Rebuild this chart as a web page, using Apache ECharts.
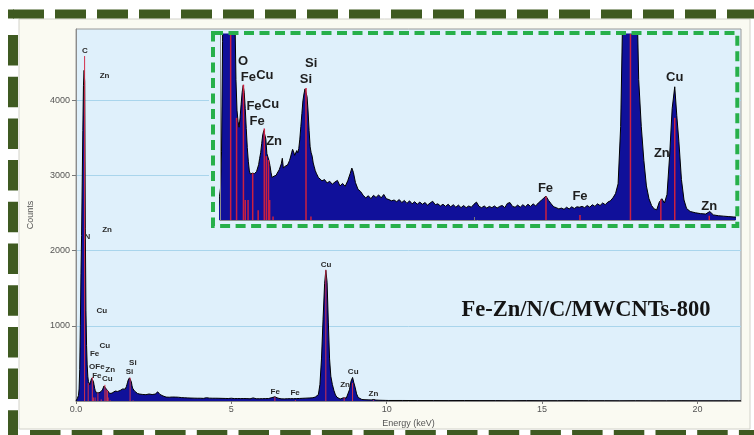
<!DOCTYPE html>
<html><head><meta charset="utf-8">
<script src="https://cdn.jsdelivr.net/npm/echarts@6/dist/echarts.min.js"></script>
<style>html,body{margin:0;padding:0;background:#fff}#c{width:754px;height:435px}</style>
</head><body><div id="c"></div>
<script>
// ---- spectrum (energy in keV, counts) ----
const energy = [
 0.00,0.02,0.04,0.06,0.08,0.10,0.12,0.14,0.16,0.18,0.20,0.22,0.24,0.26,0.28,0.30,0.32,0.34,0.36,0.38,
 0.40,0.42,0.44,0.46,0.48,0.50,0.52,0.54,0.56,0.58,0.60,0.62,0.64,0.66,0.68,0.70,0.72,0.74,0.76,0.78,
 0.80,0.82,0.84,0.86,0.88,0.90,0.92,0.94,0.96,0.98,1.00,1.02,1.04,1.06,1.08,1.10,1.12,1.14,1.16,1.18,
 1.20,1.22,1.24,1.26,1.28,1.30,1.32,1.34,1.36,1.38,1.40,1.42,1.44,1.46,1.48,1.50,1.52,1.54,1.56,1.58,
 1.60,1.62,1.64,1.66,1.68,1.70,1.72,1.74,1.76,1.78,1.80,1.82,1.84,1.86,1.88,1.90,1.92,1.94,1.96,1.98,
 2.00,2.05,2.10,2.15,2.20,2.25,2.30,2.35,2.40,2.45,2.50,2.55,2.60,2.63,2.66,2.70,2.75,2.80,2.85,2.90,
 2.95,3.00,3.05,3.10,3.15,3.20,3.25,3.30,3.35,3.40,3.45,3.50,3.55,3.60,3.65,3.70,3.75,3.80,3.85,3.90,
 3.95,4.00,4.05,4.10,4.15,4.20,4.25,4.30,4.35,4.40,4.45,4.50,4.55,4.60,4.65,4.70,4.75,4.80,4.85,4.90,
 4.95,5.00,5.05,5.10,5.15,5.20,5.25,5.30,5.35,5.40,5.45,5.50,5.55,5.60,5.65,5.70,5.75,5.80,5.85,5.90,
 5.95,6.00,6.05,6.10,6.15,6.20,6.25,6.30,6.35,6.40,6.45,6.50,6.55,6.60,6.65,6.70,6.75,6.80,6.85,6.90,
 6.95,7.00,7.05,7.10,7.15,7.20,7.25,7.30,7.35,7.40,7.45,7.50,7.55,7.60,7.65,7.70,7.75,7.80,7.85,7.90,
 7.95,8.00,8.04,8.08,8.12,8.16,8.20,8.25,8.30,8.35,8.40,8.45,8.50,8.55,8.60,8.65,8.70,8.75,8.80,8.85,
 8.90,8.94,8.98,9.03,9.08,9.13,9.20,9.30,9.40,9.50,9.58,9.65,9.75,9.85,9.95,10.05,10.5,11.0,11.5,12.0,
 12.5,13.0,13.5,14.0,14.5,15.0,15.5,16.0,16.5,17.0,17.5,18.0,18.5,19.0,19.5,20.0,20.5,21.0,21.4
];
const counts = [
 0,10,30,55,75,160,420,1000,1700,2200,2900,3600,4200,4400,4250,2300,1200,740,480,330,
 258,232,218,240,272,300,316,300,262,215,170,138,115,108,104,110,106,109,112,114,
 118,130,145,158,180,200,210,213,190,156,148,140,128,112,100,98,103,100,105,110,
 114,118,122,132,145,122,124,127,130,129,134,140,148,158,166,160,152,156,163,158,
 168,190,220,250,280,296,308,312,290,256,210,172,158,150,134,125,116,110,106,100,
 98,92,95,87,91,84,89,93,80,86,79,92,110,122,112,88,72,67,58,52,
 57,50,58,53,59,52,60,50,48,45,47,43,48,41,46,39,45,38,43,37,
 42,37,41,35,40,44,36,38,33,37,32,37,31,36,30,35,29,34,29,33,
 30,37,42,32,29,33,28,32,29,33,28,32,34,29,39,41,32,30,35,30,
 36,31,37,32,38,33,40,45,51,56,46,38,31,29,26,28,25,30,26,31,
 27,31,30,32,29,34,30,36,32,38,34,40,36,42,45,52,62,85,220,560,
 1080,1560,1740,1580,1050,560,330,220,140,80,50,34,26,24,42,50,40,60,150,262,
 313,245,185,95,47,27,20,17,15,14,20,12,10,9,8,7,7,6,6,5,
 6,5,5,4,5,4,4,5,4,4,3,4,3,3,4,3,3,3,3
];

// ---- element line markers (keV, marker height in counts) ----
const lineEnergy = [0.277,0.392,0.525,0.56,0.615,0.705,0.811,0.93,0.97,1.012,1.034,1.10,1.74,1.836,6.40,7.06,8.04,8.63,8.90,9.57];
const lineHeight = [4590,240,318,47,47,110,23,215,150,141,47,8,310,8,55,12,1747,48,240,10];

// ---- element labels, main view ----
const mainLabelText = ['C','Zn','N','Zn','Cu','Cu','Fe','OFe','Zn','Fe','Cu','Si','Si','Fe','Fe','Cu','Zn','Cu','Zn'];
const mainLabelE    = [0.29,0.92,0.37,1.00,0.83,0.93,0.60,0.67,1.10,0.67,1.01,1.83,1.72,6.41,7.05,8.05,8.66,8.92,9.57];
const mainLabelC    = [4660,4330,2186,2276,1202,736,629,456,410,337,297,514,394,124,110,1814,217,390,97];

// ---- element labels, inset view ----
const insetLabelText = ['O','Fe','Cu','Fe','Cu','Fe','Zn','Si','Si','Fe','Fe','Cu','Zn','Zn'];
const insetLabelE    = [0.52,0.62,0.94,0.73,1.05,0.79,1.12,1.84,1.74,6.39,7.06,8.90,8.65,9.57];
const insetLabelC    = [372,336,340,268,272,231,185,369,331,74,55,336,157,31];

// ---- axes ----
const xTicks = [0,5,10,15,20];
const yTicks = [1000,2000,3000,4000];
const insetXTicks = [5];
const sampleName = 'Fe-Zn/N/C/MWCNTs-800';

const spectrum = energy.map((e,i)=>[e,counts[i]]);
const markers = lineEnergy.map((e,i)=>[e,lineHeight[i]]);

function markerRender(color,width){
  return function(params,api){
    const cs = params.coordSys;
    const p0 = api.coord([api.value(0),0]);
    const p1 = api.coord([api.value(0),api.value(1)]);
    const yTop = Math.max(p1[1], cs.y);
    return {type:'line', shape:{x1:p0[0],y1:p0[1],x2:p1[0],y2:yTop},
      style:{stroke:color,lineWidth:width}};
  };
}
function labelRender(texts,font,color){
  return function(params,api){
    const p = api.coord([api.value(0),api.value(1)]);
    return {type:'text', x:p[0], y:p[1],
      style:{text:texts[params.dataIndex], font:font, fill:color,
        align:'center', verticalAlign:'middle', textAlign:'center', textVerticalAlign:'middle'}};
  };
}

const chart = echarts.init(document.getElementById('c'),null,{renderer:'canvas'});
const axisGray = '#8c8c8c';
const labelFont = 'Liberation Sans';
const green = '#3f5a21';

chart.setOption({
  animation:false,
  backgroundColor:'#ffffff',
  grid:[
    {left:76,right:13,top:29,bottom:34,show:true,backgroundColor:'#dff0fb',borderColor:'#9a9a9a',borderWidth:1},
    {left:220,right:19,top:34,bottom:215,show:false}
  ],
  xAxis:[
    {type:'value',gridIndex:0,min:0,max:21.4,
     axisLine:{show:true,lineStyle:{color:axisGray}},
     axisTick:{show:true,customValues:xTicks,length:3,lineStyle:{color:'#777'}},
     axisLabel:{customValues:xTicks,formatter:v=>v===0?'0.0':String(v),color:'#555',fontSize:9,fontFamily:labelFont,margin:4},
     splitLine:{show:false},
     name:'Energy (keV)',nameLocation:'middle',nameGap:15,
     nameTextStyle:{color:'#555',fontSize:9,fontFamily:labelFont}},
    {type:'value',gridIndex:1,min:0.07,max:10.07,z:3,
     axisLine:{show:true,lineStyle:{color:axisGray}},
     axisTick:{show:true,customValues:insetXTicks,inside:true,length:3,lineStyle:{color:'#777'}},
     axisLabel:{show:false},splitLine:{show:false}}
  ],
  yAxis:[
    {type:'value',gridIndex:0,min:0,max:4950,
     axisLine:{show:true,lineStyle:{color:axisGray}},
     axisTick:{show:true,customValues:yTicks,length:4,lineStyle:{color:'#777'}},
     axisLabel:{customValues:yTicks,formatter:v=>String(v),color:'#555',fontSize:9,fontFamily:labelFont,margin:6},
     splitLine:{show:true,lineStyle:{color:'#a9d5ec',width:1}},
     name:'Counts',nameLocation:'middle',nameRotate:90,nameGap:41,
     nameTextStyle:{color:'#555',fontSize:9,fontFamily:labelFont}},
    {type:'value',gridIndex:1,min:0,max:437,z:3,
     axisLine:{show:true,lineStyle:{color:axisGray}},
     axisTick:{show:false},axisLabel:{show:false},splitLine:{show:false}}
  ],
  graphic:[
    {type:'rect',z:-5,shape:{x:19,y:19,width:731,height:410},style:{fill:'#fafaf2',stroke:'#d2d2ca',lineWidth:1}},
    {type:'rect',z:1,shape:{x:209,y:30,width:531,height:198},style:{fill:'#dff0fb'}},
    {type:'rect',z:10,shape:{x:213,y:33,width:524.3,height:193},
     style:{fill:'none',stroke:'#27b04a',lineWidth:4,lineDash:[10,5.5]}},
    {type:'line',z:10,shape:{x1:13,y1:14,x2:760,y2:14},style:{stroke:green,lineWidth:9,lineDash:[31,11]}},
    {type:'rect',z:10,shape:{x:8,y:9.5,width:6,height:9},style:{fill:green}},
    {type:'line',z:10,shape:{x1:13,y1:35,x2:13,y2:440},style:{stroke:green,lineWidth:10,lineDash:[30.5,11.2]}},
    {type:'line',z:10,shape:{x1:30,y1:435,x2:760,y2:435},style:{stroke:green,lineWidth:10,lineDash:[30.5,11.2]}},
    {type:'text',z:10,x:586,y:310,style:{text:sampleName,font:'bold 22.5px "Liberation Serif"',fill:'#141414',
      align:'center',verticalAlign:'middle',textAlign:'center',textVerticalAlign:'middle'}}
  ],
  series:[
    {type:'line',xAxisIndex:0,yAxisIndex:0,data:spectrum,symbol:'none',showSymbol:false,silent:true,z:2,
     lineStyle:{color:'#000',width:1},areaStyle:{color:'#10109a',opacity:1}},
    {type:'custom',xAxisIndex:0,yAxisIndex:0,data:markers,clip:true,z:3,silent:true,
     renderItem:markerRender('#d2304c',1)},
    {type:'custom',xAxisIndex:0,yAxisIndex:0,z:4,silent:true,
     data:mainLabelE.map((e,i)=>[e,mainLabelC[i]]),
     renderItem:labelRender(mainLabelText,'bold 8px "Liberation Sans"','#2a2a2a')},
    {type:'line',xAxisIndex:1,yAxisIndex:1,data:spectrum,symbol:'none',showSymbol:false,silent:true,z:2,clip:true,
     lineStyle:{color:'#000',width:1},areaStyle:{color:'#10109a',opacity:1}},
    {type:'custom',xAxisIndex:1,yAxisIndex:1,data:markers,clip:true,z:3,silent:true,
     renderItem:markerRender('#cc2040',1.5)},
    {type:'custom',xAxisIndex:1,yAxisIndex:1,z:4,silent:true,
     data:insetLabelE.map((e,i)=>[e,insetLabelC[i]]),
     renderItem:labelRender(insetLabelText,'bold 13px "Liberation Sans"','#1e1e1e')}
  ]
});
</script></body></html>
